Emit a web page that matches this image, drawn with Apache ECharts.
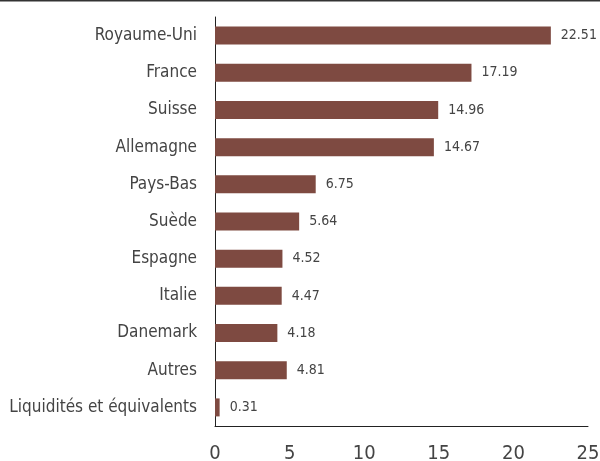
<!DOCTYPE html>
<html>
<head>
<meta charset="utf-8">
<script src="https://cdn.jsdelivr.net/npm/echarts@6/dist/echarts.min.js"></script>
<style>
  html, body { margin: 0; padding: 0; background: #fff; }
  #chart { width: 600px; height: 461px; }
</style>
</head>
<body>
<div id="chart"></div>
<script>
// pays / allocation (%)
var categories = ['Royaume-Uni', 'France', 'Suisse', 'Allemagne', 'Pays-Bas', 'Suède',
  'Espagne', 'Italie', 'Danemark', 'Autres', 'Liquidités et équivalents'];
var values = [22.51, 17.19, 14.96, 14.67, 6.75, 5.64, 4.52, 4.47, 4.18, 4.81, 0.31];
var ticks = [0, 5, 10, 15, 20, 25];

var font = '"Liberation Sans Narrow", "DejaVu Sans Condensed", sans-serif';
var myChart = echarts.init(document.getElementById('chart'));

var option = {
  backgroundColor: '#fff',
  animation: false,
  graphic: [{
    type: 'line',
    shape: { x1: 0, y1: 0.5, x2: 600, y2: 0.5 },
    style: { stroke: '#333', lineWidth: 2 }
  }],
  grid: { left: 215, right: 12, top: 17, bottom: 35, outerBoundsMode: 'none', containLabel: false },
  xAxis: {
    type: 'value',
    min: ticks[0],
    max: ticks[ticks.length - 1],
    interval: 5,
    splitLine: { show: false },
    axisLine: { show: true, lineStyle: { color: '#222', width: 1 } },
    axisTick: { show: false },
    axisLabel: { color: '#444', fontFamily: font, fontSize: 20, margin: 18 }
  },
  yAxis: {
    type: 'category',
    inverse: true,
    data: categories,
    axisLine: { show: true, lineStyle: { color: '#222', width: 1 } },
    axisTick: { show: false },
    axisLabel: { color: '#444', fontFamily: font, fontSize: 17, margin: 18 }
  },
  series: [{
    type: 'bar',
    data: values,
    barWidth: 18,
    itemStyle: { color: '#7e4a41' },
    label: {
      show: true,
      position: 'right',
      distance: 10,
      color: '#444',
      fontFamily: font,
      fontSize: 14,
      formatter: function (p) { return p.value.toFixed(2); }
    }
  }]
};

myChart.setOption(option);
</script>
</body>
</html>
